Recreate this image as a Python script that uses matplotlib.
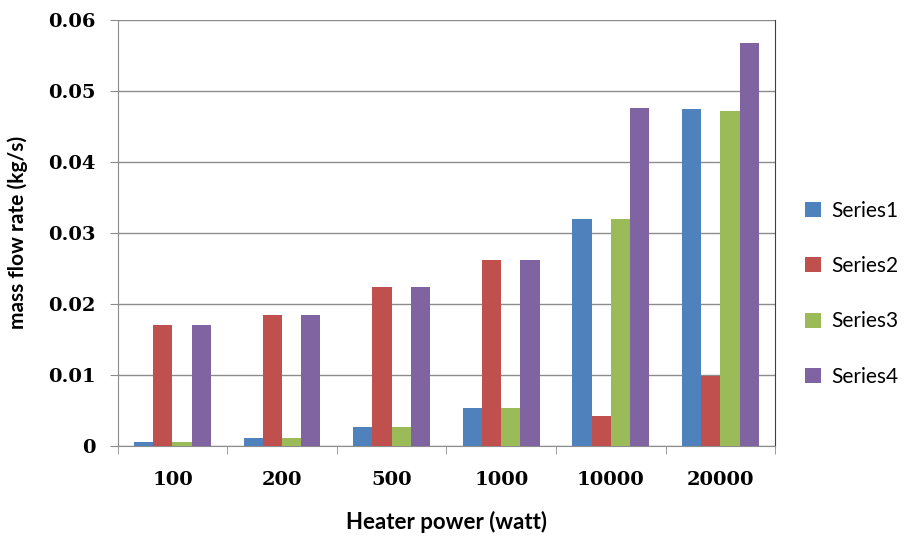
import numpy as np
import matplotlib
matplotlib.use("Agg")
from matplotlib import pyplot as plt

plt.rcParams['font.family'] = ['Lato', 'DejaVu Sans']

categories = ['100', '200', '500', '1000', '10000', '20000']
series_names = ['Series1', 'Series2', 'Series3', 'Series4']
series1 = [0.0006, 0.0011, 0.0026, 0.0054, 0.0320, 0.0474]
series2 = [0.0170, 0.0185, 0.0224, 0.0262, 0.0042, 0.0098]
series3 = [0.0006, 0.0011, 0.0026, 0.0054, 0.0320, 0.0471]
series4 = [0.0170, 0.0185, 0.0224, 0.0262, 0.0476, 0.0567]
colors = ['#4F81BD', '#C0504D', '#9BBB59', '#8064A2']

fig = plt.figure(figsize=(9.12, 5.36), dpi=100)
ax = fig.add_axes([0.129, 0.168, 0.721, 0.795])

x = np.arange(len(categories))
width = 0.175
all_series = [series1, series2, series3, series4]
for i, (vals, name, c) in enumerate(zip(all_series, series_names, colors)):
    ax.bar(x + (i - 1.5) * width, vals, width, color=c, label=name, zorder=3)

ax.set_xlim(-0.5, len(categories) - 0.5)
ax.set_ylim(0, 0.06)
ax.set_yticks(np.arange(0, 0.061, 0.01))
ax.set_yticklabels(['0', '0.01', '0.02', '0.03', '0.04', '0.05', '0.06'])
ax.yaxis.grid(True, color='#8c8c8c', linewidth=1, zorder=0)

ax.set_xticks(x)
ax.set_xticklabels(categories)
ax.set_xticks(np.arange(-0.5, len(categories), 1), minor=True)
ax.tick_params(axis='x', which='major', length=0, pad=18)
ax.tick_params(axis='x', which='minor', length=6, color='#8c8c8c', direction='out')
ax.tick_params(axis='y', length=6, color='#8c8c8c', direction='out', pad=10)
for lbl in ax.get_xticklabels() + ax.get_yticklabels():
    lbl.set_fontsize(14)
    lbl.set_fontweight('bold')
    lbl.set_family(['DejaVu Serif'])

for side in ['left', 'bottom']:
    ax.spines[side].set_color('#8c8c8c')
ax.spines['top'].set_visible(False)
ax.spines['right'].set_color('#404040')

ax.set_xlabel('Heater power (watt)', fontsize=16, fontweight='bold', labelpad=16)
ax.set_ylabel('mass flow rate (kg/s)', fontsize=15, fontweight='bold', labelpad=14)

ax.legend(loc='center left', bbox_to_anchor=(0.883, 0.452), bbox_transform=fig.transFigure,
          frameon=False, fontsize=15, handlelength=0.75, handleheight=0.75,
          labelspacing=1.7, handletextpad=0.5, borderpad=0, borderaxespad=0)

fig.savefig('out.png', dpi=100)
